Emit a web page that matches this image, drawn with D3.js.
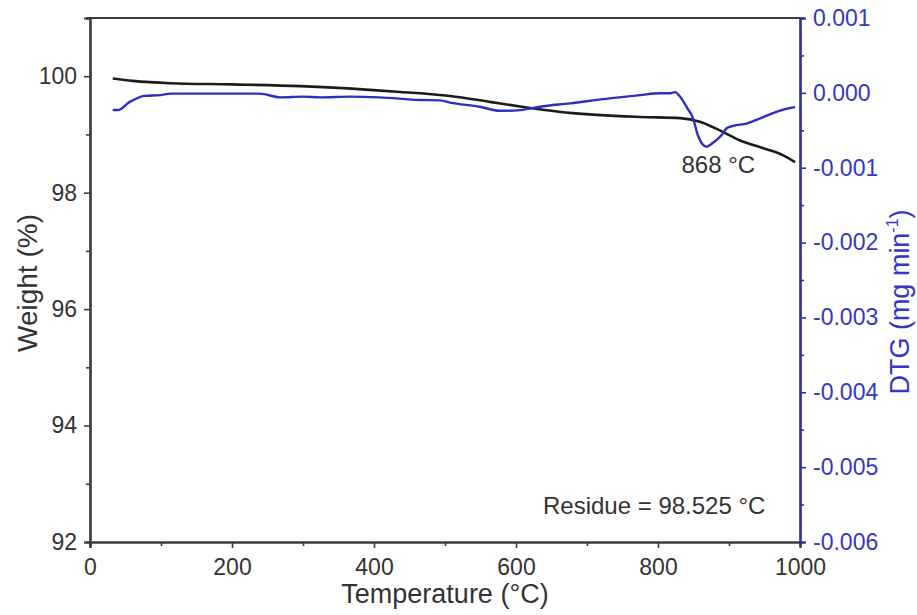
<!DOCTYPE html>
<html>
<head>
<meta charset="utf-8">
<script src="https://cdn.jsdelivr.net/npm/d3@7/dist/d3.min.js"></script>
<style>
  html, body { margin: 0; padding: 0; background: #ffffff; }
  svg { display: block; font-family: "Liberation Sans", Arial, sans-serif; }
</style>
</head>
<body>
<svg id="chart" width="917" height="615"></svg>
<script>
// TGA weight curve (%), sampled against temperature (°C)
const weightTemp = [32, 60, 113, 200, 296, 437, 507, 563, 606, 676, 775, 831, 859, 887, 915, 944, 960, 975, 993];
const weightVal  = [99.96, 99.92, 99.88, 99.86, 99.83, 99.73, 99.66, 99.56, 99.48, 99.37, 99.30, 99.28, 99.22, 99.07, 98.90, 98.78, 98.72, 98.65, 98.525];

// DTG curve (mg min^-1), sampled against temperature (°C)
const dtgTemp = [32, 39, 56, 77, 99, 113, 180, 239, 268, 300, 324, 366, 408, 465, 493, 507, 549, 577, 606, 634, 676, 732, 775, 803, 817, 824, 831, 841, 849, 856, 863, 868, 877, 890, 897, 906, 925, 944, 962, 982, 993];
const dtgVal  = [-0.00023, -0.00023, -0.00012, -0.00004, -0.00003, -0.00001, -0.00001, -0.00001, -0.00006, -0.00005, -0.00006, -0.00005, -0.00006, -0.000095, -0.00010, -0.00013, -0.000185, -0.00024, -0.00023, -0.000185, -0.00014, -0.000073, -0.00003, -0.000006, -0.000006, 0.00001, -0.00005, -0.00020, -0.00033, -0.00056, -0.00069, -0.00072, -0.00067, -0.00056, -0.00047, -0.00044, -0.00041, -0.00034, -0.00027, -0.00021, -0.00019];

// Axis ticks and labels
const tempTicks = [0, 200, 400, 600, 800, 1000];
const tempMinorTicks = [100, 300, 500, 700, 900];
const weightTicks = [92, 94, 96, 98, 100];
const weightMinorTicks = [93, 95, 97, 99, 101];
const dtgTicks = [0.001, 0, -0.001, -0.002, -0.003, -0.004, -0.005, -0.006];
const dtgTickLabels = ["0.001", "0.000", "-0.001", "-0.002", "-0.003", "-0.004", "-0.005", "-0.006"];
const dtgMinorTicks = [0.0005, -0.0005, -0.0015, -0.0025, -0.0035, -0.0045, -0.0055];

const peakLabel = "868 °C";
const peakTemp = 868;

const svg = d3.select("#chart");
const plotLeft = 90, plotRight = 800, plotTop = 18, plotBottom = 542;

const x = d3.scaleLinear().domain([0, 1000]).range([plotLeft, plotRight]);
const yW = d3.scaleLinear().domain([92, 101]).range([plotBottom, plotTop]);
const yD = d3.scaleLinear().domain([-0.006, 0.001]).range([plotBottom, plotTop]);

const axisColor = "#3c3c3c";
const textColor = "#333333";
const blueAxis = "#34348f";
const blueText = "#3636c6";
const blueLine = "#2e2ec6";
const fontFamily = "Liberation Sans, Arial, sans-serif";
const tickFont = 23;

// Curves
const weightData = weightTemp.map((t, i) => ({ t, v: weightVal[i] }));
const dtgData = dtgTemp.map((t, i) => ({ t, v: dtgVal[i] }));

svg.append("path")
  .datum(weightData)
  .attr("fill", "none")
  .attr("stroke", "#1c1c1c")
  .attr("stroke-width", 2.6)
  .attr("d", d3.line().x(d => x(d.t)).y(d => yW(d.v)).curve(d3.curveMonotoneX));

svg.append("path")
  .datum(dtgData)
  .attr("fill", "none")
  .attr("stroke", blueLine)
  .attr("stroke-width", 2.4)
  .attr("d", d3.line().x(d => x(d.t)).y(d => yD(d.v)).curve(d3.curveMonotoneX));

// Top frame line
svg.append("line")
  .attr("x1", plotLeft - 3).attr("x2", plotRight)
  .attr("y1", plotTop).attr("y2", plotTop)
  .attr("stroke", axisColor).attr("stroke-width", 2.2);

// Bottom axis
const gx = svg.append("g").attr("transform", `translate(0,${plotBottom})`);
gx.call(d3.axisBottom(x).tickValues(tempTicks).tickSize(6).tickPadding(11).tickFormat(d3.format("d")));
gx.append("g").call(d3.axisBottom(x).tickValues(tempMinorTicks).tickSize(4).tickFormat(""));
gx.selectAll(".domain").attr("stroke", axisColor).attr("stroke-width", 2.2);
gx.selectAll(".tick line").attr("stroke", axisColor).attr("stroke-width", 1.6);
gx.selectAll(".tick text").attr("fill", textColor).attr("font-size", tickFont).attr("font-family", fontFamily);

// Left axis
const gl = svg.append("g").attr("transform", `translate(${plotLeft},0)`);
gl.call(d3.axisLeft(yW).tickValues(weightTicks).tickSize(6).tickPadding(7).tickFormat(d3.format("d")));
gl.append("g").call(d3.axisLeft(yW).tickValues(weightMinorTicks).tickSize(4).tickFormat(""));
gl.selectAll(".domain").attr("stroke", axisColor).attr("stroke-width", 2.2);
gl.selectAll(".tick line").attr("stroke", axisColor).attr("stroke-width", 1.6);
gl.selectAll(".tick text").attr("fill", textColor).attr("font-size", tickFont).attr("font-family", fontFamily);

// Right axis (DTG)
const gr = svg.append("g").attr("transform", `translate(${plotRight},0)`);
gr.call(d3.axisRight(yD).tickValues(dtgTicks).tickSize(6).tickPadding(7)
  .tickFormat((d, i) => dtgTickLabels[i]));
gr.append("g").call(d3.axisRight(yD).tickValues(dtgMinorTicks).tickSize(4).tickFormat(""));
gr.selectAll(".domain").attr("stroke", blueAxis).attr("stroke-width", 2.2);
gr.selectAll(".tick line").attr("stroke", blueAxis).attr("stroke-width", 1.6);
gr.selectAll(".tick text").attr("fill", blueText).attr("font-size", tickFont).attr("font-family", fontFamily);

// Axis titles
svg.append("text")
  .attr("x", (plotLeft + plotRight) / 2).attr("y", 603)
  .attr("text-anchor", "middle")
  .attr("font-size", 27).attr("fill", textColor)
  .text("Temperature (°C)");

svg.append("text")
  .attr("transform", `translate(37,${(plotTop + plotBottom) / 2 + 3}) rotate(-90)`)
  .attr("text-anchor", "middle")
  .attr("font-size", 28).attr("fill", textColor)
  .text("Weight (%)");

const dtgTitle = svg.append("text")
  .attr("transform", `translate(909,302) rotate(-90)`)
  .attr("text-anchor", "middle")
  .attr("font-size", 27).attr("fill", blueText);
dtgTitle.append("tspan").text("DTG (mg min");
dtgTitle.append("tspan").attr("font-size", 16).attr("dy", -11).text("-1");
dtgTitle.append("tspan").attr("dy", 11).text(")");

// Annotations
svg.append("text")
  .attr("x", x(peakTemp) + 12).attr("y", 173)
  .attr("text-anchor", "middle")
  .attr("font-size", 24).attr("fill", textColor)
  .text(peakLabel);

const residue = weightVal[weightVal.length - 1];
svg.append("text")
  .attr("x", 543).attr("y", 514)
  .attr("font-size", 24).attr("fill", textColor)
  .text(`Residue = ${residue.toFixed(3)} °C`);
</script>
</body>
</html>
